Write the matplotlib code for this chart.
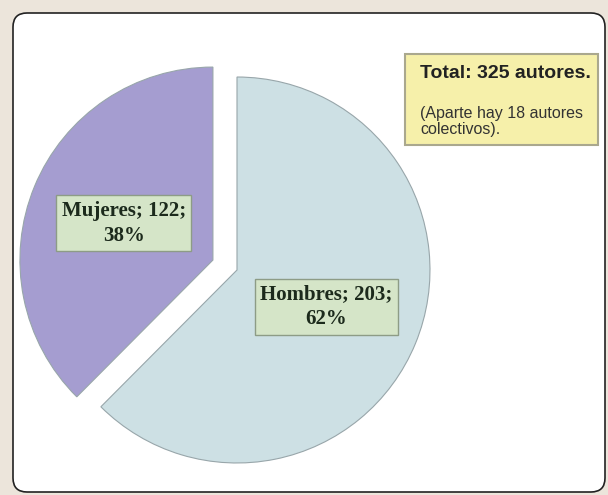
import matplotlib
matplotlib.use("Agg")
import matplotlib.pyplot as plt
from matplotlib.patches import FancyBboxPatch

# data
categories = ["Hombres", "Mujeres"]
values = [203, 122]
colors = ["#cde0e4", "#a59dd0"]
collective_authors = 18

W, H, DPI = 608, 495, 100

fig = plt.figure(figsize=(W / DPI, H / DPI), dpi=DPI)
fig.patch.set_facecolor("#ece5db")

# white rounded frame (pixel coords converted to inches)
frame = FancyBboxPatch((13 / DPI, 3 / DPI), (605 - 13) / DPI, (482 - 3) / DPI,
                       boxstyle="round,pad=0,rounding_size=0.14",
                       transform=fig.dpi_scale_trans, facecolor="white",
                       edgecolor="#222222", linewidth=1.2, zorder=-5)
fig.patches.append(frame)

# pie, centre at (237, 270) px, radius ~193 px
ax = fig.add_axes([17 / W, 5 / H, 440 / W, 440 / H])
ax.set_zorder(1)
ax.patch.set_alpha(0)
total = sum(values)
labels = [f"{c}; {v};\n{round(100 * v / total)}%" for c, v in zip(categories, values)]
wedges, texts = ax.pie(values, colors=colors, startangle=90, counterclock=False,
                       explode=[0, 0.135], labels=labels, labeldistance=0.5,
                       wedgeprops=dict(edgecolor="#98a6aa", linewidth=0.8),
                       textprops=dict(ha="center", va="center", fontsize=15,
                                      fontweight="bold", family="Liberation Serif",
                                      color="#1c2a1c", linespacing=1.35))
for t in texts:
    t.set_bbox(dict(boxstyle="square,pad=0.25", facecolor="#d5e5c8",
                    edgecolor="#8d9c86", linewidth=1.0))
ax.set_xlim(-1.14, 1.14)
ax.set_ylim(-1.14, 1.14)
ax.set_aspect("equal")
ax.axis("off")

# note box top right
note = FancyBboxPatch((405 / DPI, (H - 145) / DPI), (598 - 405) / DPI, (145 - 54) / DPI,
                      boxstyle="square,pad=0", transform=fig.dpi_scale_trans,
                      facecolor="#f6f0aa", edgecolor="#aaa88e", linewidth=1.5, zorder=2)
fig.patches.append(note)
fig.text(420 / W, (H - 73) / H, f"Total: {total} autores.", fontsize=14,
         fontweight="bold", family="Liberation Sans", color="#222222",
         ha="left", va="center", zorder=3)
fig.text(420 / W, (H - 106) / H, f"(Aparte hay {collective_authors} autores\ncolectivos).",
         fontsize=11.5, family="Liberation Sans", color="#333333",
         ha="left", va="top", linespacing=1.05, zorder=3)

fig.savefig("out.png", dpi=DPI, facecolor=fig.get_facecolor())
